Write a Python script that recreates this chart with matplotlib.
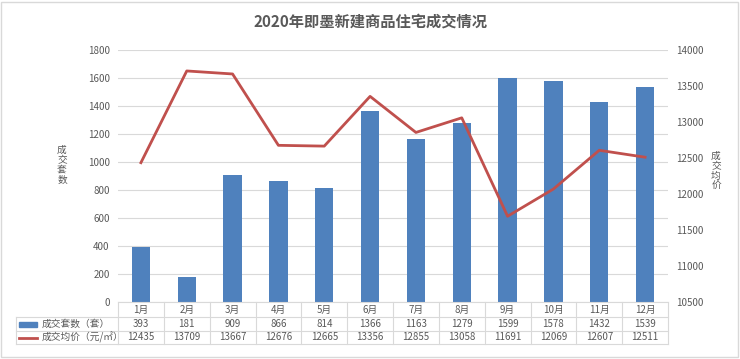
import matplotlib
matplotlib.use("Agg")
import matplotlib.pyplot as plt
from matplotlib.lines import Line2D
from matplotlib.patches import Rectangle
import matplotlib.transforms as mtrans

plt.rcParams['font.family'] = ['Noto Sans CJK SC', 'DejaVu Sans']

months = ['1月', '2月', '3月', '4月', '5月', '6月', '7月', '8月', '9月', '10月', '11月', '12月']
counts = [393, 181, 909, 866, 814, 1366, 1163, 1279, 1599, 1578, 1432, 1539]
prices = [12435, 13709, 13667, 12676, 12665, 13356, 12855, 13058, 11691, 12069, 12607, 12511]
series_names = ['成交套数（套）', '成交均价（元/㎡）']
title = '2020年即墨新建商品住宅成交情况'
left_label = '成交套数'
right_label = '成交均价'

W, H = 740, 359
fig = plt.figure(figsize=(W / 100, H / 100), dpi=100)

def fx(px):
    return px / W

def fy(py):
    return 1 - py / H

ax_l, ax_r, ax_t, ax_b = 118, 668, 50, 302
ax = fig.add_axes([fx(ax_l), fy(ax_b), fx(ax_r - ax_l), (ax_b - ax_t) / H])
ax2 = ax.twinx()

bar_color = '#4F81BD'
line_color = '#C0504D'
txt_color = '#595959'
grid_color = '#D9D9D9'

x = list(range(len(months)))
ax.bar(x, counts, width=0.4, color=bar_color, zorder=3)
ax2.plot(x, prices, color=line_color, lw=2, zorder=4)

ax.set_xlim(-0.5, len(months) - 0.5)
ax.set_ylim(0, 1800)
ax.set_yticks(range(0, 1801, 200))
ax2.set_ylim(10500, 14000)
ax2.set_yticks(range(10500, 14001, 500))
ax.set_xticks([])
ax.yaxis.grid(True, color=grid_color, lw=0.8, zorder=0)
ax.set_axisbelow(True)
for a in (ax, ax2):
    for s in a.spines.values():
        s.set_visible(False)
    a.tick_params(axis='y', length=0, labelsize=7, labelcolor=txt_color)
ax.tick_params(axis='y', pad=6)
ax2.tick_params(axis='y', pad=6)

# Title
fig.text(0.5, fy(22), title, ha='center', va='center', fontsize=11,
         fontweight='bold', color=txt_color)

# Axis labels (stacked vertical characters)
fig.text(fx(62), fy(165), '\n'.join(left_label), ha='center', va='center',
         fontsize=7, color=txt_color, linespacing=1.0)
fig.text(fx(716), fy(171), '\n'.join(right_label), ha='center', va='center',
         fontsize=7, color=txt_color, linespacing=1.0)

# Data table
row_edges = [302, 317, 331, 344]
row_centers = [(row_edges[i] + row_edges[i + 1]) / 2 for i in range(3)]
table_color = '#D9D9D9'
blend = mtrans.blended_transform_factory(ax.transData, fig.transFigure)

# vertical lines of month columns
for i in range(len(months) + 1):
    fig.add_artist(Line2D([i - 0.5, i - 0.5], [fy(row_edges[0]), fy(row_edges[-1])],
                          transform=blend, color=table_color, lw=0.8))
# horizontal lines
fig.add_artist(Line2D([-0.5, len(months) - 0.5], [fy(row_edges[0])] * 2,
                      transform=blend, color=table_color, lw=0.8))
for py in row_edges[1:]:
    fig.add_artist(Line2D([fx(16), fx(ax_l)], [fy(py)] * 2, color=table_color, lw=0.8))
    fig.add_artist(Line2D([-0.5, len(months) - 0.5], [fy(py)] * 2,
                          transform=blend, color=table_color, lw=0.8))
fig.add_artist(Line2D([fx(16), fx(16)], [fy(row_edges[1]), fy(row_edges[-1])],
                      color=table_color, lw=0.8))

rows = [months, counts, prices]
for r, vals in enumerate(rows):
    for i, v in enumerate(vals):
        fig.text(i, fy(row_centers[r]), str(v), transform=blend, ha='center',
                 va='center', fontsize=7, color=txt_color)

# legend keys in table
fig.add_artist(Rectangle((fx(19), fy(row_centers[1] + 2.5)), fx(18), 5 / H,
                         color=bar_color, transform=fig.transFigure))
fig.add_artist(Line2D([fx(19), fx(37)], [fy(row_centers[2])] * 2,
                      color=line_color, lw=2))
fig.text(fx(42), fy(row_centers[1]), series_names[0], ha='left', va='center',
         fontsize=7, color=txt_color)
fig.text(fx(42), fy(row_centers[2]), series_names[1], ha='left', va='center',
         fontsize=7, color=txt_color)

# outer frame
fig.add_artist(Rectangle((fx(1), fy(357)), fx(737), 355 / H, fill=False,
                         edgecolor='#D9D9D9', lw=1, transform=fig.transFigure))

fig.savefig('out.png', dpi=100, facecolor='white')
